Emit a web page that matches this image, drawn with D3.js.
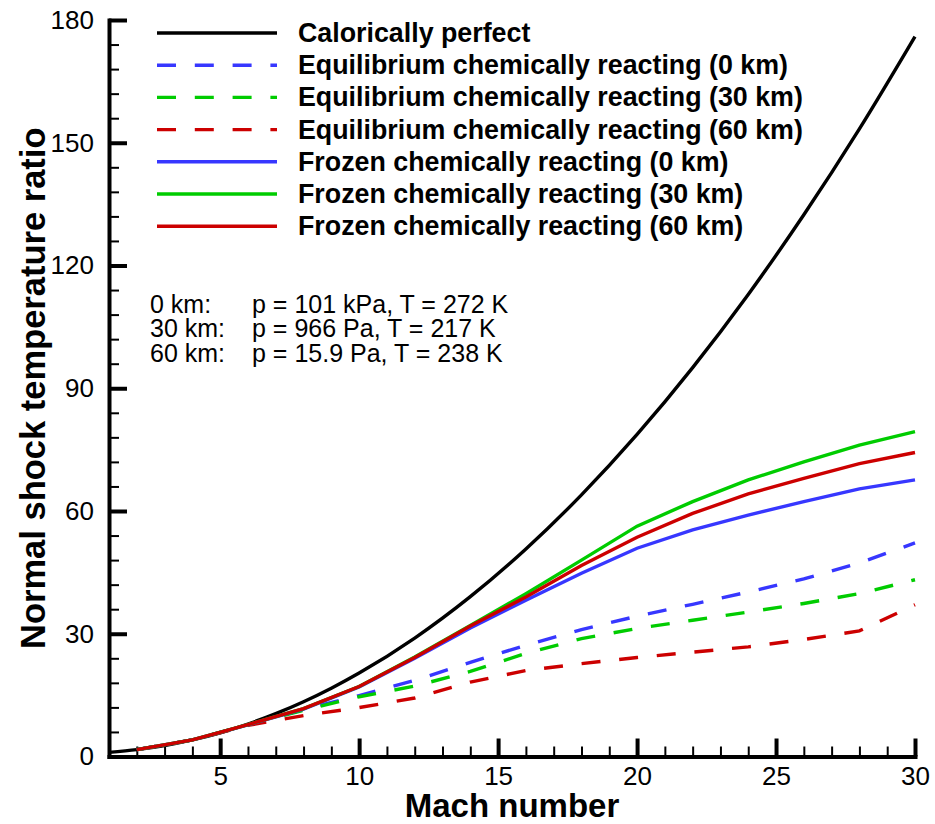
<!DOCTYPE html>
<html>
<head>
<meta charset="utf-8">
<script src="https://cdn.jsdelivr.net/npm/d3@7"></script>
<style>
  body { margin: 0; background: #fff; }
  svg text { font-family: "Liberation Sans", Arial, Helvetica, sans-serif; }
</style>
</head>
<body>
<div id="chart"></div>
<script>
// calorically perfect gas
const machPerfect = [1, 2, 3, 4, 5, 6, 7, 8, 9, 10, 12, 14, 16, 18, 20, 22, 24, 26, 28, 30]
const perfect = [1.0, 1.69, 2.68, 4.05, 5.8, 7.94, 10.47, 13.39, 16.69, 20.39, 28.94, 39.06, 50.72, 63.94, 78.72, 95.05, 112.94, 132.39, 153.39, 175.95]

// reacting cases are sampled every 2 Mach
const mach = [2, 4, 6, 8, 10, 12, 14, 16, 18, 20, 22, 24, 26, 28, 30]
const eq0 = [1.69, 4.05, 7.75, 11.5, 14.9, 18.6, 23.0, 27.2, 31.0, 34.3, 37.2, 40.2, 43.4, 47.3, 52.2]
const eq30 = [1.69, 4.05, 7.75, 11.3, 14.6, 17.2, 20.8, 25.2, 28.8, 31.3, 33.3, 35.3, 37.4, 39.8, 43.2]
const eq60 = [1.69, 4.05, 7.6, 10.0, 11.95, 14.3, 18.2, 21.0, 22.7, 24.2, 25.5, 26.8, 28.6, 30.7, 37.1]
const frozen0 = [1.69, 4.05, 7.75, 11.6, 17.0, 24.0, 31.4, 38.2, 44.8, 50.9, 55.4, 59.0, 62.3, 65.4, 67.6]
const frozen30 = [1.69, 4.05, 7.8, 11.7, 17.1, 24.3, 32.0, 39.8, 48.0, 56.3, 62.3, 67.6, 72.0, 76.1, 79.4]
const frozen60 = [1.69, 4.05, 7.8, 11.7, 17.1, 24.2, 31.9, 39.0, 46.7, 53.6, 59.4, 64.2, 68.0, 71.6, 74.3]

const xMajor = [5, 10, 15, 20, 25, 30]
const yMajor = [0, 30, 60, 90, 120, 150, 180]

const notes = [
    ["0 km:", "p = 101 kPa, T = 272 K"],
    ["30 km:", "p = 966 Pa, T = 217 K"],
    ["60 km:", "p = 15.9 Pa, T = 238 K"]
]

const BLUE = "rgb(55,55,255)", GREEN = "rgb(0,204,0)", RED = "rgb(204,0,0)"
const DASH = "19 18.8"

const series = [
    { name: "Calorically perfect", x: machPerfect, y: perfect, color: "#000", dash: null },
    { name: "Equilibrium chemically reacting (0 km)", x: mach, y: eq0, color: BLUE, dash: DASH },
    { name: "Equilibrium chemically reacting (30 km)", x: mach, y: eq30, color: GREEN, dash: DASH },
    { name: "Equilibrium chemically reacting (60 km)", x: mach, y: eq60, color: RED, dash: DASH },
    { name: "Frozen chemically reacting (0 km)", x: mach, y: frozen0, color: BLUE, dash: null },
    { name: "Frozen chemically reacting (30 km)", x: mach, y: frozen30, color: GREEN, dash: null },
    { name: "Frozen chemically reacting (60 km)", x: mach, y: frozen60, color: RED, dash: null }
]

const MARGIN = { TOP: 20, LEFT: 109, RIGHT: 20, BOTTOM: 67.5 }
const W = 935, H = 824
const WIDTH = W - MARGIN.LEFT - MARGIN.RIGHT
const HEIGHT = H - MARGIN.TOP - MARGIN.BOTTOM

const svg = d3.select("#chart").append("svg")
    .attr("width", W)
    .attr("height", H)

const g = svg.append("g")
    .attr("transform", `translate(${MARGIN.LEFT}, ${MARGIN.TOP})`)

const x = d3.scaleLinear().domain([1, 30]).range([0, WIDTH])
const y = d3.scaleLinear().domain([0, 180]).range([HEIGHT, 0])

// minor ticks first, majors + axis lines on top
const xMinor = d3.range(2, 30).filter(v => v % 5 !== 0)
const yMinor = d3.range(6, 180, 6).filter(v => v % 30 !== 0)

g.append("g")
    .attr("transform", `translate(0, ${HEIGHT})`)
    .call(d3.axisBottom(x).tickValues(xMinor).tickSize(-10).tickFormat(""))
    .call(a => a.select(".domain").remove())
    .selectAll("line").attr("stroke-width", 2)

g.append("g")
    .call(d3.axisLeft(y).tickValues(yMinor).tickSize(-10).tickFormat(""))
    .call(a => a.select(".domain").remove())
    .selectAll("line").attr("stroke-width", 2)

const xAxis = g.append("g")
    .attr("transform", `translate(0, ${HEIGHT})`)
    .call(d3.axisBottom(x).tickValues(xMajor).tickSize(-18).tickSizeOuter(0).tickPadding(10))

const yAxis = g.append("g")
    .call(d3.axisLeft(y).tickValues(yMajor).tickSize(-18).tickSizeOuter(0).tickPadding(15))

for (const ax of [xAxis, yAxis]) {
    ax.select(".domain").attr("stroke-width", 4).attr("stroke-linecap", "square")
    ax.selectAll(".tick line").attr("stroke-width", 4)
    ax.selectAll(".tick text")
        .attr("font-size", 26)
        .attr("fill", "#000")
        .style("font-family", "'Liberation Sans', Arial, sans-serif")
}

// curves
const line = d3.line()
    .x(d => x(d[0]))
    .y(d => y(d[1]))

series.forEach((s, i) => {
    const pts = s.x.map((m, k) => [m, s.y[k]])
    g.append("path")
        .datum(pts)
        .attr("fill", "none")
        .attr("stroke", s.color)
        .attr("stroke-width", 3.4)
        .attr("stroke-dasharray", s.dash)
        .attr("d", i === 0 ? line.curve(d3.curveMonotoneX)(pts) : line.curve(d3.curveLinear)(pts))
})

// legend
const legend = svg.append("g")
series.forEach((s, i) => {
    const ly = 33 + i * 32.2
    legend.append("line")
        .attr("x1", 157).attr("x2", 277)
        .attr("y1", ly).attr("y2", ly)
        .attr("stroke", s.color)
        .attr("stroke-width", 3.4)
        .attr("stroke-dasharray", s.dash)
    legend.append("text")
        .attr("x", 298)
        .attr("y", ly + 9)
        .attr("font-size", 26.8)
        .attr("font-weight", "bold")
        .text(s.name)
})

// altitude conditions
notes.forEach((n, i) => {
    const ty = 312.5 + i * 24.8
    svg.append("text").attr("x", 150).attr("y", ty).attr("font-size", 25).text(n[0])
    svg.append("text").attr("x", 252).attr("y", ty).attr("font-size", 25).text(n[1])
})

// axis titles
svg.append("text")
    .attr("x", MARGIN.LEFT + WIDTH / 2)
    .attr("y", 817)
    .attr("text-anchor", "middle")
    .attr("font-size", 33)
    .attr("font-weight", "bold")
    .text("Mach number")

svg.append("text")
    .attr("transform", "rotate(-90)")
    .attr("x", -(MARGIN.TOP + HEIGHT / 2))
    .attr("y", 45)
    .attr("text-anchor", "middle")
    .attr("font-size", 34.5)
    .attr("font-weight", "bold")
    .text("Normal shock temperature ratio")
</script>
</body>
</html>
